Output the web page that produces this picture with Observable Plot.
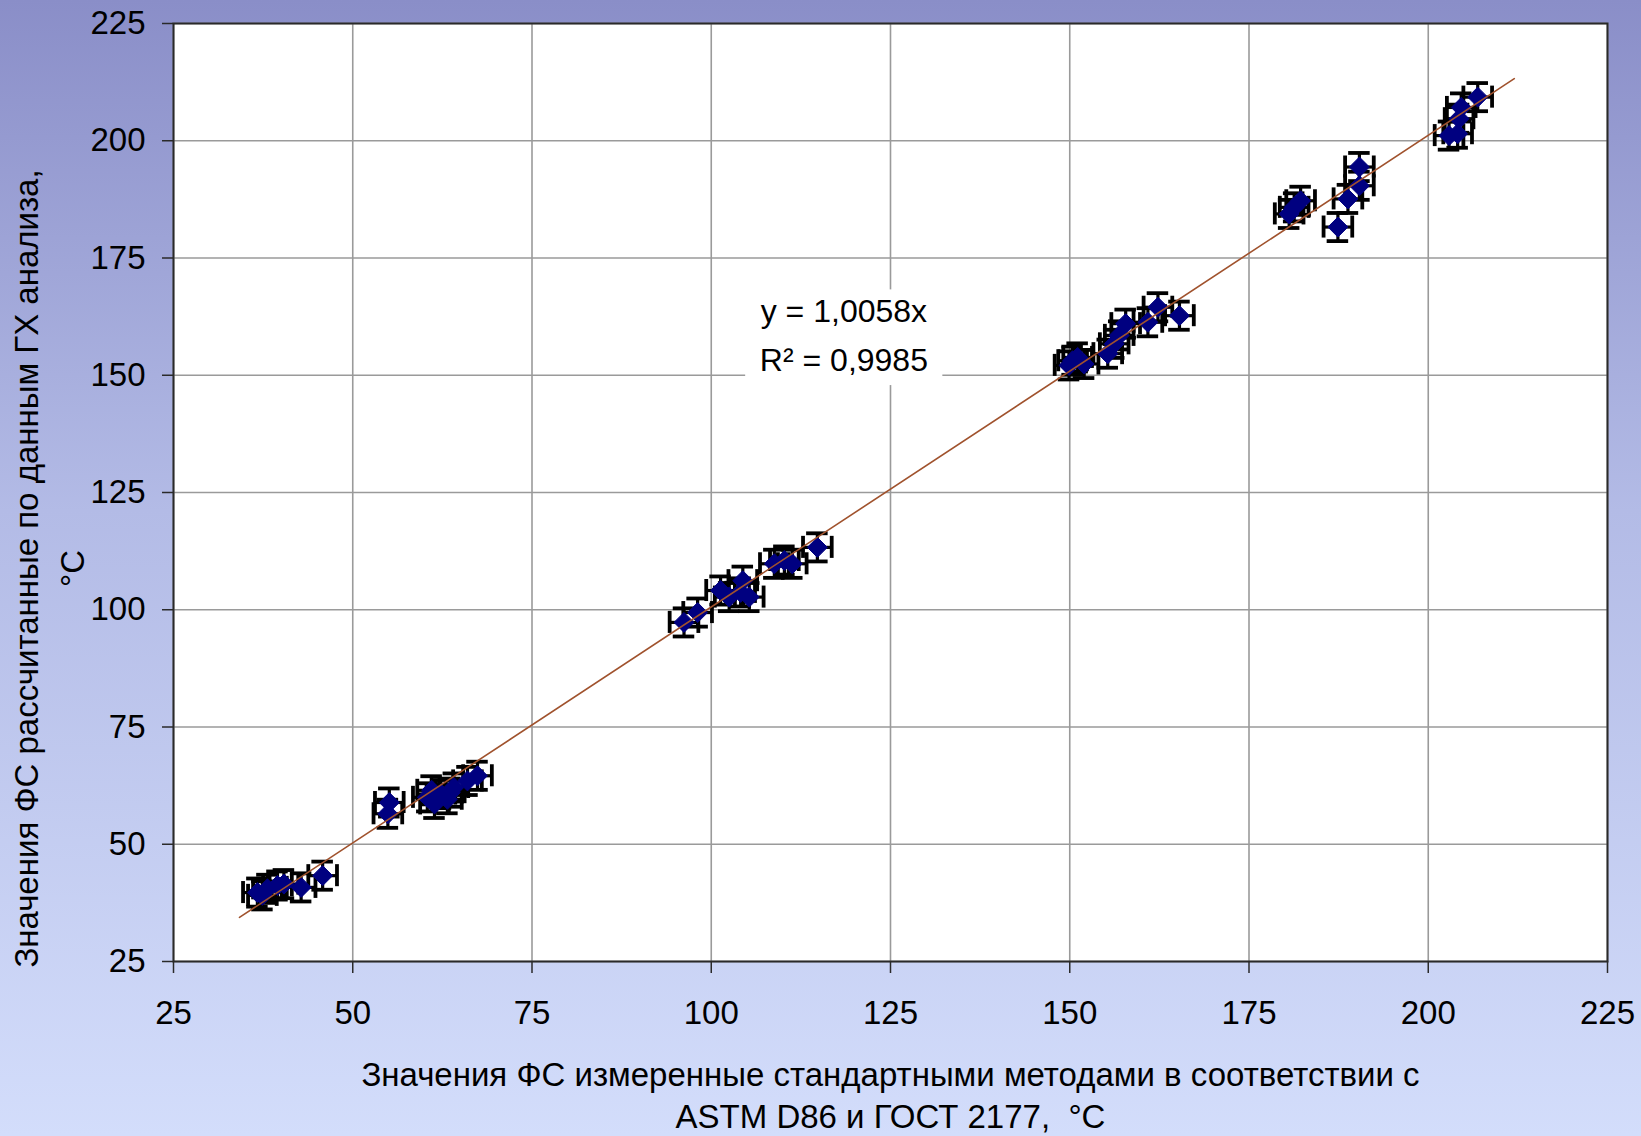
<!DOCTYPE html>
<html>
<head>
<meta charset="utf-8">
<script src="https://cdn.jsdelivr.net/npm/d3@7"></script>
<script src="https://cdn.jsdelivr.net/npm/@observablehq/plot@0.6"></script>
<style>
  html, body { margin: 0; padding: 0; }
  body {
    width: 1641px; height: 1136px; overflow: hidden;
    background: linear-gradient(to bottom, #8a8ec8 0%, #b3bbe6 45%, #d3ddfb 100%);
  }
  #chart svg { display: block; overflow: visible; }
</style>
</head>
<body>
<div id="chart"></div>
<script>
// Measured values (standard methods, °C)
const measured = [36.7, 37.4, 38.1, 39.5, 40.4, 42.8, 45.8,
  55.1, 54.9, 60.4, 61.4, 62.3, 63.2, 64.1, 66.0, 67.4, 61.0, 63.6,
  96.2, 98.1, 101.3, 102.5, 104.4, 105.3, 104.1, 108.8, 110.2, 111.3, 114.8,
  149.9, 150.4, 151.1, 152.0, 155.3, 156.2, 156.9, 157.8, 160.9, 162.3, 165.3,
  180.6, 181.3, 182.2, 187.4, 188.8, 190.4, 190.4, 202.9, 204.1, 204.3, 204.6, 206.9];
// Calculated values from GC analysis (°C)
const calculated = [39.7, 39.1, 40.5, 41.2, 41.5, 40.8, 43.3,
  58.9, 56.5, 60.0, 58.6, 60.7, 59.6, 62.1, 63.5, 64.6, 61.5, 61.0,
  97.3, 99.4, 104.1, 102.7, 106.2, 102.7, 103.7, 109.8, 110.5, 109.8, 113.3,
  152.1, 153.1, 153.8, 152.4, 154.6, 156.7, 158.5, 161.0, 161.3, 164.5, 162.7,
  184.4, 185.8, 187.2, 181.6, 187.6, 190.4, 194.4, 201.1, 201.5, 204.7, 207.1, 209.3];
const errorX = 2;   // ± on measured
const errorY = 3;   // ± on calculated
const slope = 1.0058;
const trendRange = [34.2, 212];
const ticks = [25, 50, 75, 100, 125, 150, 175, 200, 225];
const equationLines = ["y = 1,0058x", "R² = 0,9985"];
const xTitle = ["Значения ФС измеренные стандартными методами в соответствии с", "ASTM D86 и ГОСТ 2177,  °C"];
const yTitle = ["Значения ФС рассчитанные по данным ГХ анализа,", "°C"];

const points = measured.map((x, i) => ({x, y: calculated[i]}));
const trend = trendRange.map(x => ({x, y: slope * x}));
// annotation placement (data units)
const note = {x: 118.5, x1: 104.8, x2: 132.3, y1: 147.8, y2: 168.2, yA: 163.6, yB: 153.1};

const capX = 1.5, capY = 2.35;
const font = "Liberation Sans, Arial, Helvetica, sans-serif";

const chart = Plot.plot({
  width: 1641, height: 1136,
  marginLeft: 173, marginRight: 34, marginTop: 23, marginBottom: 175,
  x: {domain: [25, 225]},
  y: {domain: [25, 225]},
  style: {background: "transparent", fontFamily: font, fontSize: "32px", color: "#000"},
  marks: [
    Plot.frame({fill: "white"}),
    Plot.gridX(ticks, {stroke: "#9a9a9a", strokeOpacity: 1, strokeWidth: 1.6}),
    Plot.gridY(ticks, {stroke: "#9a9a9a", strokeOpacity: 1, strokeWidth: 1.6}),
    Plot.rect([note], {x1: "x1", x2: "x2", y1: "y1", y2: "y2", fill: "white"}),
    Plot.frame({stroke: "#2a2a2a", strokeWidth: 2}),
    Plot.axisX(ticks, {tickSize: 12, tickPadding: 27, label: null, stroke: "#2a2a2a", strokeWidth: 1.5, fontSize: 33}),
    Plot.axisY(ticks, {tickSize: 11, tickPadding: 17, label: null, stroke: "#2a2a2a", strokeWidth: 1.5, fontSize: 33}),
    // vertical error bars
    Plot.ruleX(points, {x: "x", y1: d => d.y - errorY, y2: d => d.y + errorY, stroke: "black", strokeWidth: 3.2}),
    Plot.ruleY(points, {y: d => d.y + errorY, x1: d => d.x - capX, x2: d => d.x + capX, stroke: "black", strokeWidth: 3.8}),
    Plot.ruleY(points, {y: d => d.y - errorY, x1: d => d.x - capX, x2: d => d.x + capX, stroke: "black", strokeWidth: 3.8}),
    // horizontal error bars
    Plot.ruleY(points, {y: "y", x1: d => d.x - errorX, x2: d => d.x + errorX, stroke: "black", strokeWidth: 3.2}),
    Plot.ruleX(points, {x: d => d.x - errorX, y1: d => d.y - capY, y2: d => d.y + capY, stroke: "black", strokeWidth: 3.8}),
    Plot.ruleX(points, {x: d => d.x + errorX, y1: d => d.y - capY, y2: d => d.y + capY, stroke: "black", strokeWidth: 3.8}),
    Plot.dot(points, {x: "x", y: "y", symbol: "diamond2", r: 9, fill: "#000080", stroke: "#000080", strokeWidth: 1}),
    Plot.line(trend, {x: "x", y: "y", stroke: "#a0522d", strokeWidth: 1.6}),
    Plot.text([equationLines[0]], {x: () => note.x, y: () => note.yA, fontSize: 32, letterSpacing: "1.6px", fontFamily: font}),
    Plot.text([equationLines[1]], {x: () => note.x, y: () => note.yB, fontSize: 32, letterSpacing: "1.6px", fontFamily: font}),
    Plot.text([xTitle[0]], {frameAnchor: "bottom", textAnchor: "middle", lineAnchor: "middle", dy: 114, fontSize: 33, letterSpacing: "0.6px", fontFamily: font}),
    Plot.text([xTitle[1]], {frameAnchor: "bottom", textAnchor: "middle", lineAnchor: "middle", dy: 156, fontSize: 33, letterSpacing: "0.6px", fontFamily: font}),
    Plot.text([yTitle[0]], {frameAnchor: "left", textAnchor: "middle", lineAnchor: "middle", dx: -146, dy: 76, rotate: -90, fontSize: 33, letterSpacing: "0.9px", fontFamily: font}),
    Plot.text([yTitle[1]], {frameAnchor: "left", textAnchor: "middle", lineAnchor: "middle", dx: -100, dy: 76, rotate: -90, fontSize: 33, letterSpacing: "0.6px", fontFamily: font})
  ]
});
document.getElementById("chart").append(chart);
</script>
</body>
</html>
